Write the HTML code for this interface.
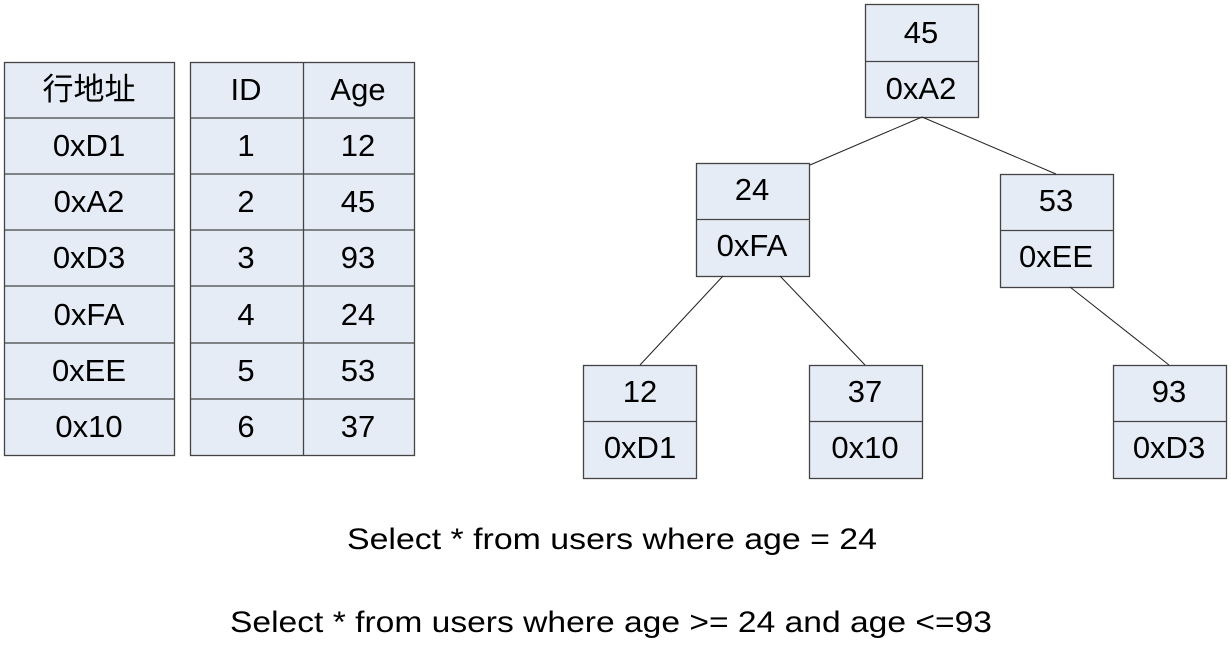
<!DOCTYPE html><html><head><meta charset="utf-8"><style>
body{margin:0;width:1231px;height:666px;background:#fff;overflow:hidden}
</style></head><body>
<svg width="1231" height="666" xmlns="http://www.w3.org/2000/svg" font-family="'Liberation Sans','Noto Sans CJK SC',sans-serif" font-size="31" text-anchor="middle">
<g fill="#e6ecf6" stroke="#444" stroke-width="1.3">
<rect x="4.5" y="62.5" width="170" height="393"/>
<rect x="190.5" y="62.5" width="224" height="393"/>
<rect x="865.5" y="4.5" width="113" height="113"/>
<rect x="696.5" y="163.5" width="113" height="113"/>
<rect x="1000.5" y="174.5" width="113" height="113"/>
<rect x="583.5" y="365.5" width="113" height="113"/>
<rect x="809.5" y="365.5" width="113" height="113"/>
<rect x="1113.5" y="365.5" width="113" height="113"/>
</g>
<g stroke="#444" stroke-width="1.3">
<line x1="4" y1="118" x2="175" y2="118"/><line x1="190" y1="118" x2="415" y2="118"/>
<line x1="4" y1="174" x2="175" y2="174"/><line x1="190" y1="174" x2="415" y2="174"/>
<line x1="4" y1="230" x2="175" y2="230"/><line x1="190" y1="230" x2="415" y2="230"/>
<line x1="4" y1="286" x2="175" y2="286"/><line x1="190" y1="286" x2="415" y2="286"/>
<line x1="4" y1="343" x2="175" y2="343"/><line x1="190" y1="343" x2="415" y2="343"/>
<line x1="4" y1="399" x2="175" y2="399"/><line x1="190" y1="399" x2="415" y2="399"/>
<line x1="303.5" y1="62" x2="303.5" y2="455"/>
<line x1="865" y1="61.5" x2="978" y2="61.5"/>
<line x1="696" y1="219.5" x2="809" y2="219.5"/>
<line x1="1000" y1="230.5" x2="1113" y2="230.5"/>
<line x1="583" y1="421.5" x2="696" y2="421.5"/>
<line x1="809" y1="421.5" x2="922" y2="421.5"/>
<line x1="1113" y1="421.5" x2="1226" y2="421.5"/>
</g>
<g stroke="#222" stroke-width="1">
<line x1="922" y1="117" x2="810" y2="165"/>
<line x1="922" y1="117" x2="1056" y2="174"/>
<line x1="723" y1="276" x2="640" y2="365"/>
<line x1="780" y1="276" x2="865" y2="365"/>
<line x1="1070" y1="287" x2="1169" y2="365"/>
</g>
<g fill="#000">
<text x="89" y="100">行地址</text><text x="246" y="100">ID</text><text x="358" y="100">Age</text>
<text x="89" y="156">0xD1</text><text x="246" y="156">1</text><text x="358" y="156">12</text>
<text x="89" y="212">0xA2</text><text x="246" y="212">2</text><text x="358" y="212">45</text>
<text x="89" y="268">0xD3</text><text x="246" y="268">3</text><text x="358" y="268">93</text>
<text x="89" y="325">0xFA</text><text x="246" y="325">4</text><text x="358" y="325">24</text>
<text x="89" y="381">0xEE</text><text x="246" y="381">5</text><text x="358" y="381">53</text>
<text x="89" y="437">0x10</text><text x="246" y="437">6</text><text x="358" y="437">37</text>
<text x="921" y="43">45</text><text x="921" y="99">0xA2</text>
<text x="752" y="200">24</text><text x="752" y="256">0xFA</text>
<text x="1056" y="211">53</text><text x="1056" y="267">0xEE</text>
<text x="640" y="402">12</text><text x="640" y="458">0xD1</text>
<text x="865" y="402">37</text><text x="865" y="458">0x10</text>
<text x="1169" y="402">93</text><text x="1169" y="458">0xD3</text>
<text x="612" y="549" font-size="30" textLength="530" lengthAdjust="spacingAndGlyphs">Select * from users where age = 24</text>
<text x="611" y="632" font-size="30" textLength="762" lengthAdjust="spacingAndGlyphs">Select * from users where age &gt;= 24 and age &lt;=93</text>
</g>
</svg>
</body></html>
